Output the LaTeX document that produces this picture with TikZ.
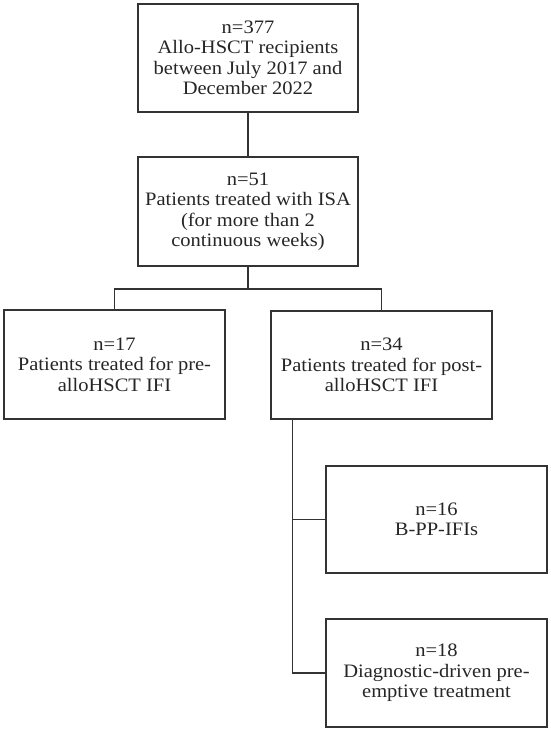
\documentclass[tikz,border=0pt]{standalone}
\usepackage{fontspec}
\setmainfont{Liberation Serif}[FakeStretch=1.08]
\begin{document}
\begin{tikzpicture}[x=1pt,y=1pt,
  box/.style={draw=black!80, line width=1.2pt, rectangle, align=center, inner sep=0pt,
    font=\fontsize{19}{20.5}\selectfont, text=black!85},
  link/.style={draw=black!80, line width=1.2pt}]
\useasboundingbox (0,0) rectangle (551,-732);
\node[box, minimum width=220pt, minimum height=108pt] (b1) at (248,-58)
  {n=377\\Allo-HSCT recipients\\between July 2017 and\\December 2022};
\node[box, minimum width=220pt, minimum height=109pt] (b2) at (248,-211.5)
  {n=51\\Patients treated with ISA\\(for more than 2\\continuous weeks)};
\node[box, minimum width=221pt, minimum height=109pt] (b3) at (114.5,-364.5)
  {n=17\\Patients treated for pre-\\alloHSCT IFI};
\node[box, minimum width=221pt, minimum height=108pt] (b4) at (381.5,-365)
  {n=34\\Patients treated for post-\\alloHSCT IFI};
\node[box, minimum width=221pt, minimum height=107pt] (b5) at (436.5,-519.5)
  {n=16\\B-PP-IFIs};
\node[box, minimum width=221pt, minimum height=108pt] (b6) at (436.5,-673)
  {n=18\\Diagnostic-driven pre-\\emptive treatment};
\coordinate (j) at (248,-289);
\coordinate (t) at ([xshift=22pt]b4.south west);
\draw[link] (b1.south) -- (b2.north);
\draw[link] (b2.south) -- (j);
\draw[link] (b3.north) |- (j) -| (b4.north);
\draw[link] (t) |- (b5.west);
\draw[link] (t) |- (b6.west);
\end{tikzpicture}
\end{document}
